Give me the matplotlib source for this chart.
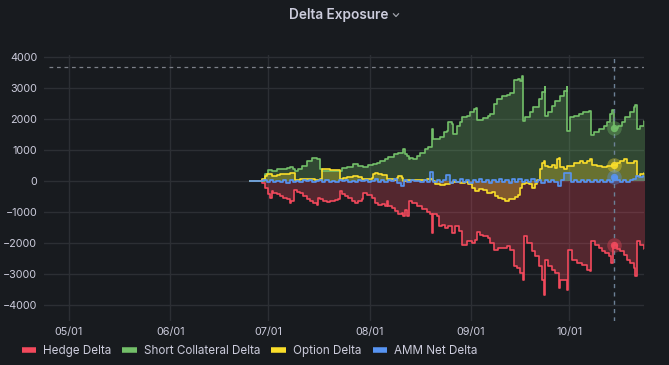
import datetime as dt
import numpy as np
import matplotlib
matplotlib.use("Agg")
import matplotlib.pyplot as plt
import matplotlib.dates as mdates
from matplotlib.lines import Line2D

# ---------------- data (days after 2022-07-01, value) ----------------
hedge_days = [-5.6, -2.55, -2.0, -1.0, 0.0, 0.5, 1.0, 1.5, 2.55, 3.6, 4.6, 5.6, 6.6, 7.1, 7.86, 8.7,
              9.7, 10.7, 11.7, 12.8, 13.8, 14.8, 15.3, 15.8, 16.8, 17.9, 18.9, 20.4, 21.4, 21.9,
              22.45, 23.5, 24.5, 25.5, 26.5, 27.55, 28.6, 29.1, 30.1, 31.6, 32.65, 33.7, 34.7, 35.7,
              36.2, 36.7, 37.8, 38.8, 39.8, 40.8, 41.3, 41.8, 42.35, 42.9, 43.9, 45.4, 46.9, 48.5,
              49.5, 50.0, 50.5, 51.5, 52.2, 53.1, 54.1, 55.1, 56.1, 57.1, 58.2, 59.2, 60.7, 62.2,
              63.3, 63.8, 64.8, 65.8, 67.35, 67.9, 68.9, 70.4, 71.4, 73.0, 74.0, 75.0, 76.0, 77.0,
              77.9, 78.1, 79.1, 80.6, 81.6, 82.65, 83.7, 84.4, 84.7, 85.7, 86.7, 87.8, 88.8, 89.3,
              90.8, 91.3, 91.8, 92.9, 94.4, 95.9, 97.45, 98.5, 98.8, 100.0, 101.0, 102.0, 103.1,
              104.1, 104.8, 105.4, 106.6, 107.65, 108.7, 109.7, 110.7, 111.7, 112.2, 112.8, 113.8,
              114.8, 115.1]
hedge_vals = [0, 0, -54, -216, -432, -540, -324, -378, -432, -486, -540, -593, -701, -647, -302, -356,
              -399, -486, -593, -647, -723, -788, -540, -572, -647, -680, -647, -615, -593, -324,
              -410, -486, -540, -647, -701, -647, -593, -399, -464, -540, -701, -788, -755, -809,
              -647, -809, -863, -971, -1079, -1025, -1133, -939, -1133, -647, -701, -809, -917, -1003,
              -1079, -1672, -1079, -1133, -1457, -1403, -1511, -1457, -1672, -1457, -1619, -2050, -1942, -1996,
              -1888, -1651, -1726, -1780, -1834, -1996, -2212, -2158, -2158, -2104, -2212, -2751, -2805, -2967,
              -3183, -1780, -1996, -2266, -2428, -2751, -3183, -3669, -2536, -2751, -2859, -2967, -3453, -3183,
              -3183, -3507, -2212, -2536, -2644, -2698, -2859, -2913, -1942, -2050, -2158, -2266, -2320,
              -2428, -2644, -2050, -2190, -2266, -2374, -2536, -2644, -2805, -3075, -1942, -2050,
              -2190, -2320]

collat_days = [-5.6, -2.55, -1.0, 0.0, 1.0, 2.55, 4.1, 5.6, 6.6, 7.65, 8.16, 9.2, 10.2, 11.7, 13.3,
               14.3, 15.0, 15.8, 16.3, 21.9, 22.45, 24.0, 26.0, 27.55, 29.1, 30.6, 32.1, 33.2, 34.2,
               35.7, 36.7, 38.3, 39.8, 41.3, 41.8, 42.35, 42.9, 43.4, 44.4, 45.4, 46.4, 48.0, 49.0,
               50.0, 50.5, 51.5, 52.55, 53.6, 54.6, 55.1, 56.1, 56.6, 57.65, 58.7, 59.2, 60.7, 61.7,
               62.8, 63.6, 63.8, 65.8, 67.35, 67.9, 68.9, 69.9, 71.4, 73.0, 74.0, 75.0, 76.5, 77.0,
               77.55, 77.9, 78.6, 80.1, 81.1, 82.65, 83.7, 84.5, 84.7, 85.7, 86.7, 87.8, 89.3, 90.3,
               91.3, 91.5, 92.35, 93.4, 94.9, 96.4, 98.0, 98.7, 99.5, 101.0, 102.55, 103.6, 104.4,
               105.1, 105.6, 107.1, 108.2, 109.2, 110.7, 111.7, 112.2, 112.8, 113.8, 114.8, 115.1]
collat_vals = [0, 0, 216, 356, 324, 378, 399, 432, 464, 399, 324, 378, 486, 647, 734,
               755, 701, 378, 324, 324, 432, 464, 540, 486, 464, 507, 540, 593, 647,
               701, 788, 863, 917, 1025, 863, 809, 701, 755, 723, 809, 917, 1025, 1111,
               1672, 1349, 1349, 1435, 1565, 1619, 1888, 1834, 1511, 1780, 1888, 2050, 2082, 2234,
               2320, 2341, 1975, 2018, 2082, 2158, 2482, 2644, 2730, 2773, 2838, 3269, 3291, 3237,
               3377, 1942, 2050, 2212, 2374, 2644, 2859, 3021, 2104, 2212, 2428, 2590, 2730, 2913,
               3021, 1619, 2050, 2104, 2158, 2212, 2266, 1478, 1586, 1672, 1780, 1888, 2158,
               2298, 1694, 1780, 1910, 2050, 2212, 2374, 2449, 1672, 1780, 1942, 2050]

option_days = [-5.6, -2.55, -2.0, -1.0, -0.5, 0.3, 1.0, 2.55, 3.6, 5.1, 6.6, 7.86, 8.16, 9.7, 11.2,
               12.8, 14.3, 15.8, 16.3, 18.9, 21.9, 23.0, 24.0, 26.0, 27.55, 28.6, 30.1, 31.6, 32.1,
               32.65, 33.7, 34.7, 36.2, 38.3, 39.3, 39.8, 40.8, 41.3, 42.35, 44.4, 48.5, 49.5, 50.5,
               51.0, 52.55, 54.1, 55.6, 56.6, 58.7, 60.2, 61.2, 62.2, 63.3, 64.3, 65.8, 66.8, 68.4,
               69.4, 70.4, 71.4, 72.45, 73.5, 74.5, 75.5, 76.5, 77.0, 77.55, 78.6, 79.6, 80.6, 81.6,
               82.1, 83.2, 83.7, 84.2, 84.7, 85.7, 86.7, 87.8, 88.3, 88.8, 89.3, 90.3, 91.3, 93.4,
               95.4, 96.4, 97.45, 98.5, 99.0, 100.5, 102.0, 103.6, 105.1, 106.6, 107.65, 108.7,
               109.7, 110.7, 111.7, 112.8, 113.8, 114.8, 115.1]
option_vals = [0, 0, 76, 162, 216, 237, 162, 183, 216, 237, 248, 270, 32, 54, 76,
               54, 32, 76, 378, 345, 76, 108, 140, 162, 140, 76, 76, 108, 216,
               248, 216, 183, 54, 32, 108, 162, 108, 0, 32, 20, 54, 76, 0,
               -108, -140, -108, -54, -32, -54, -32, -108, -216, -324, -270, -302, -378, -356,
               -486, -540, -593, -647, -593, -572, -507, -464, -216, -108, -54, -108, -216, -108,
               32, 378, 593, 647, 486, 464, 507, 432, 701, 755, 464, 378, 486, 593,
               647, 593, 647, 723, 507, 486, 464, 486, 507, 572, 647, 701,
               593, 572, 647, 162, 216, 248, 507]

amm_start = -5.5
amm_vals = [0, 0, 0, 0, 20, -30, 40, -20, 10, -40, 30, -60, 20, -30, 10, -20, 30, -10, 20, -40,
            10, 40, -20, 20, -30, 10, -20, 30, -10, 20, -30, 10, -20, 20, -10, 30, -30, 10, 60, -40,
            20, -20, 30, -10, 60, -80, -160, 40, -30, 20, -10, 10, -20, 30, -20, 280, -40, 20, -30, 40,
            180, -60, 30, -40, 60, -20, 40, -50, 30, -30, 50, -40, 20, -60, 40, -20, 60, -40, 30, -50,
            80, -30, 50, -20, 30, -40, 60, -30, 20, -50, 40, -20, 30, -30, -160, 40, 270, 250, -30, 40,
            -20, 30, -30, 20, -40, 30, -20, 20, -30, 40, -20, 140, 30, -20, 40, -30, 20, 60, 150, 120,
            160]

series_names = ["Hedge Delta", "Short Collateral Delta", "Option Delta", "AMM Net Delta"]
series_colors = ["#F2495C", "#73BF69", "#FADE2A", "#5794F2"]
tick_months = [dt.datetime(2022, m, 1) for m in range(5, 11)]
cursor_day = 105.7
cursor_value = 3680
cursor_points = [-2050, 1694, 507, 140]

# ---------------- styling ----------------
BG = "#181b1f"
TXT = "#ccccdc"
GRID = "#2c2f34"
plt.rcParams["font.family"] = ["Inter", "DejaVu Sans"]

W, H = 669, 365
fig = plt.figure(figsize=(W / 100, H / 100), dpi=100, facecolor=BG)
ax_l, ax_r, ax_t, ax_b = 44.3, 644.3, 55.3, 321.0
ax = fig.add_axes([ax_l / W, 1 - ax_b / H, (ax_r - ax_l) / W, (ax_b - ax_t) / H])
ax.set_facecolor(BG)

base = mdates.date2num(dt.datetime(2022, 7, 1))

def tx(days):
    return base + np.asarray(days, dtype=float)

amm_days = amm_start + np.arange(len(amm_vals))
amm_days_full = np.concatenate([[-5.6], amm_days, [115.1]])
amm_vals_full = np.concatenate([[0], amm_vals, [amm_vals[-1]]])

all_series = [
    (hedge_days, hedge_vals),
    (collat_days, collat_vals),
    (option_days, option_vals),
    (amm_days_full, amm_vals_full),
]

for (d, v), c in zip(all_series, series_colors):
    x = tx(d)
    v = np.asarray(v, dtype=float)
    ax.fill_between(x, 0, v, step="post", color=c, alpha=0.28, linewidth=0, zorder=2)
    ax.plot(x, v, drawstyle="steps-post", color=c, lw=1.2, zorder=3)

ax.set_xlim(base - 68.5, base + 115.0)
ax.set_ylim(-4515, 4055)
ax.set_yticks([-4000, -3000, -2000, -1000, 0, 1000, 2000, 3000, 4000])
ax.set_xticks(mdates.date2num(tick_months))
ax.xaxis.set_major_formatter(mdates.DateFormatter("%m/%d"))
ax.grid(True, color=GRID, lw=1, zorder=0)
ax.tick_params(axis="both", length=0, colors=TXT, labelsize=7.8)
ax.tick_params(axis="y", pad=5)
ax.tick_params(axis="x", pad=4)
for s in ax.spines.values():
    s.set_visible(False)

# crosshair
ax.axvline(base + cursor_day, color="#6c8196", lw=1, ls=(0, (3, 3)), zorder=4)
ax.axhline(cursor_value, color="#7d8189", lw=0.9, ls=(0, (3, 3)), zorder=4, xmin=0.008)
for val, c in zip(cursor_points, series_colors):
    ax.scatter([base + cursor_day], [val], s=110, color=c, alpha=0.35, lw=0, zorder=5)
    ax.scatter([base + cursor_day], [val], s=28, color=c, alpha=0.9, lw=0, zorder=6)

# title
fig.text(338.3 / W, 1 - 14.5 / H, "Delta Exposure", ha="center", va="center",
         color=TXT, fontsize=9.8, fontweight="semibold")
fig.add_artist(Line2D([393.5 / W, 396 / W, 398.5 / W],
                      [1 - 13.8 / H, 1 - 16.5 / H, 1 - 13.8 / H],
                      color="#a0a3ab", lw=0.9, transform=fig.transFigure))

# legend
handles = [Line2D([0], [0], color=c, lw=4, solid_capstyle="butt") for c in series_colors]
leg = fig.legend(handles, series_names, loc="center left",
                 bbox_to_anchor=(21.5 / W, 1 - 351 / H), ncol=4, frameon=False,
                 fontsize=8.4, handlelength=1.25, handletextpad=0.6, columnspacing=0.95,
                 borderpad=0, borderaxespad=0)
for t in leg.get_texts():
    t.set_color(TXT)

fig.savefig("out.png", dpi=100, facecolor=BG)
